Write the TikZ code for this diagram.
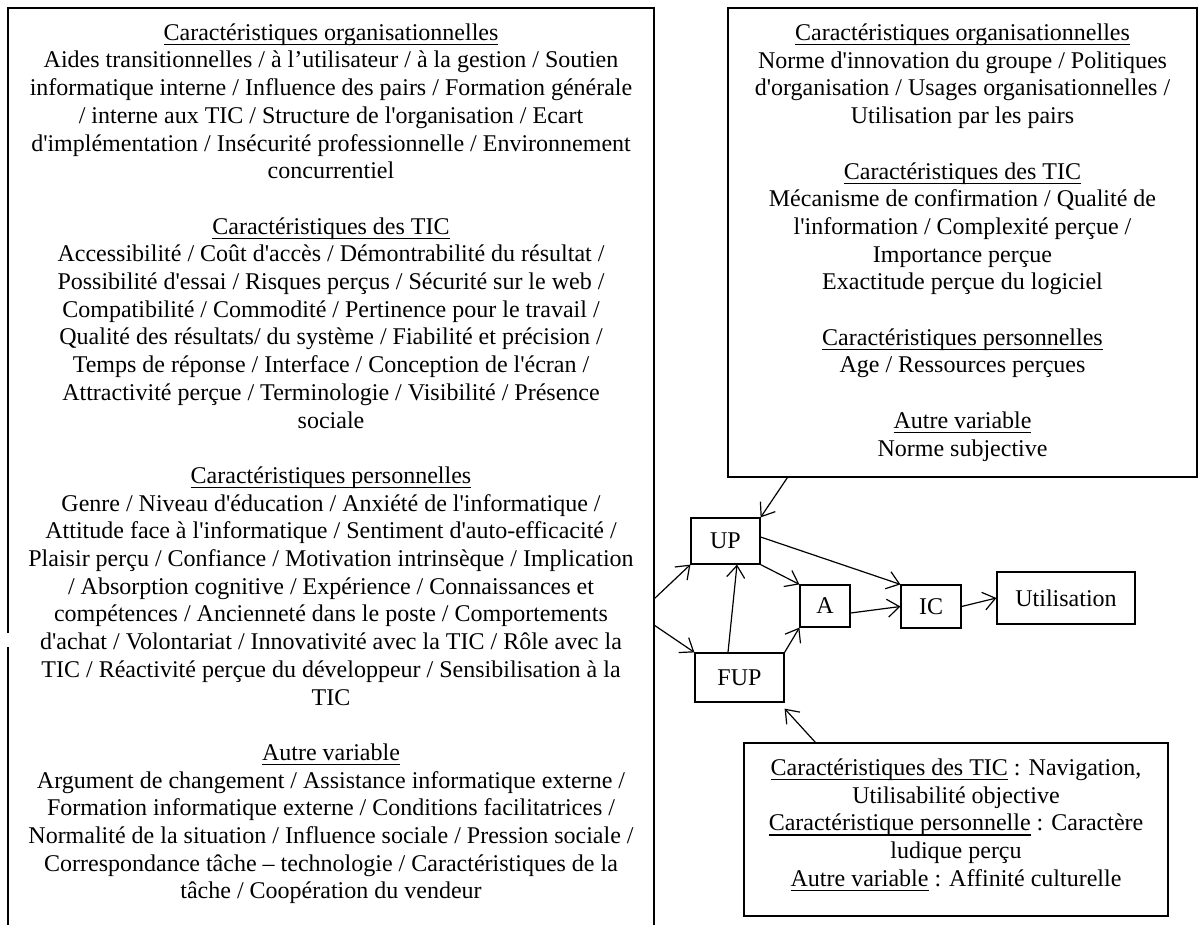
\documentclass[tikz,border=0pt]{standalone}
\usepackage{fontspec}
\setmainfont{Liberation Serif}[Ligatures=TeXOff]
\usepackage{tikz}
\usetikzlibrary{arrows.meta}

% soulignement proche de la ligne de base
\newcommand{\souligne}[1]{\leavevmode\setbox0\hbox{#1}\rlap{\rule[-2.4pt]{\wd0}{0.6pt}}\box0\relax}

\tikzset{
    boite/.style={draw, line width=0.6pt, inner sep=0pt, align=center, font=\fontsize{12}{13.85}\selectfont},
    texte/.style={align=center, inner sep=0pt, font=\fontsize{12}{13.85}\selectfont},
    fleche/.style={-{Straight Barb[length=6pt,width=9pt]}, line width=0.6pt},
}

\begin{document}
\begin{tikzpicture}[x=0.5pt, y=-0.5pt, line width=0.6pt]
    \useasboundingbox (0,0) rectangle (1199,925);

    % Cadre de gauche (ouvert en bas)
    \draw (8,633) -- (8,8) -- (654,8) -- (654,940);
    \draw (8,647) -- (8,940);
    \coordinate (g1) at (654,599);
    \coordinate (g2) at (654,625);

    \node[texte, anchor=north] (gauche) at (331,23) {
        \souligne{Caractéristiques organisationnelles}\\
        Aides transitionnelles / à l’utilisateur / à la gestion / Soutien\\
        informatique interne / Influence des pairs / Formation générale\\
        / interne aux TIC / Structure de l'organisation / Ecart\\
        d'implémentation / Insécurité professionnelle / Environnement\\
        concurrentiel\\[13.85pt]
        \souligne{Caractéristiques des TIC}\\
        Accessibilité / Coût d'accès / Démontrabilité du résultat /\\
        Possibilité d'essai / Risques perçus / Sécurité sur le web /\\
        Compatibilité / Commodité / Pertinence pour le travail /\\
        Qualité des résultats/ du système / Fiabilité et précision /\\
        Temps de réponse / Interface / Conception de l'écran /\\
        Attractivité perçue / Terminologie / Visibilité / Présence\\
        sociale\\[13.85pt]
        \souligne{Caractéristiques personnelles}\\
        Genre / Niveau d'éducation / Anxiété de l'informatique /\\
        Attitude face à l'informatique / Sentiment d'auto-efficacité /\\
        Plaisir perçu / Confiance / Motivation intrinsèque / Implication\\
        / Absorption cognitive / Expérience / Connaissances et\\
        compétences / Ancienneté dans le poste / Comportements\\
        d'achat / Volontariat / Innovativité avec la TIC / Rôle avec la\\
        TIC / Réactivité perçue du développeur / Sensibilisation à la\\
        TIC\\[13.85pt]
        \souligne{Autre variable}\\
        Argument de changement / Assistance informatique externe /\\
        Formation informatique externe / Conditions facilitatrices /\\
        Normalité de la situation / Influence sociale / Pression sociale /\\
        Correspondance tâche – technologie / Caractéristiques de la\\
        tâche / Coopération du vendeur};

    % Cadre de droite
    \node[boite, minimum width=234.5pt, minimum height=234.5pt] (droite) at (962.5,242.5) {
        \souligne{Caractéristiques organisationnelles}\\
        Norme d'innovation du groupe / Politiques\\
        d'organisation / Usages organisationnelles /\\
        Utilisation par les pairs\\[13.85pt]
        \souligne{Caractéristiques des TIC}\\
        Mécanisme de confirmation / Qualité de\\
        l'information / Complexité perçue /\\
        Importance perçue\\
        Exactitude perçue du logiciel\\[13.85pt]
        \souligne{Caractéristiques personnelles}\\
        Age / Ressources perçues\\[13.85pt]
        \souligne{Autre variable}\\
        Norme subjective};

    % Cadre du bas
    \node[boite, minimum width=212pt, minimum height=86.5pt] (bas) at (956,829.5) {
        \souligne{Caractéristiques des TIC} : Navigation,\\
        Utilisabilité objective\\
        \souligne{Caractéristique personnelle} : Caractère\\
        ludique perçu\\
        \souligne{Autre variable} : Affinité culturelle\rule[-7pt]{0pt}{7pt}};

    % Variables du modèle
    \node[boite, minimum width=34.5pt, minimum height=23pt] (UP) at (725.5,541) {UP};
    \node[boite, minimum width=44.5pt, minimum height=24.5pt] (FUP) at (739.5,677.5) {FUP};
    \node[boite, minimum width=25pt, minimum height=21pt] (A) at (825,606) {A};
    \node[boite, minimum width=30pt, minimum height=21.5pt] (IC) at (931,606.5) {IC};
    \node[boite, minimum width=69pt, minimum height=26pt] (util) at (1066,598) {Utilisation};

    % Liens
    \draw[fleche] ([xshift=30pt]droite.south west) -- (UP.north east);
    \draw[fleche] (g1) -- (UP.south west);
    \draw[fleche] (g2) -- (FUP.north west);
    \draw[fleche] ([xshift=-5.75pt]FUP.north) -- ([xshift=5.75pt]UP.south);
    \draw[fleche] (UP.south east) -- (A.north west);
    \draw[fleche] (FUP.north east) -- (A.south west);
    \draw[fleche] ([yshift=2pt]UP.east) -- (IC.north west);
    \draw[fleche] ([yshift=-3.5pt]A.east) -- (IC.west);
    \draw[fleche] (IC.east) -- (util.west);
    \draw[fleche] ([xshift=36pt]bas.north west) -- ([yshift=-3pt]FUP.south east);
\end{tikzpicture}
\end{document}
